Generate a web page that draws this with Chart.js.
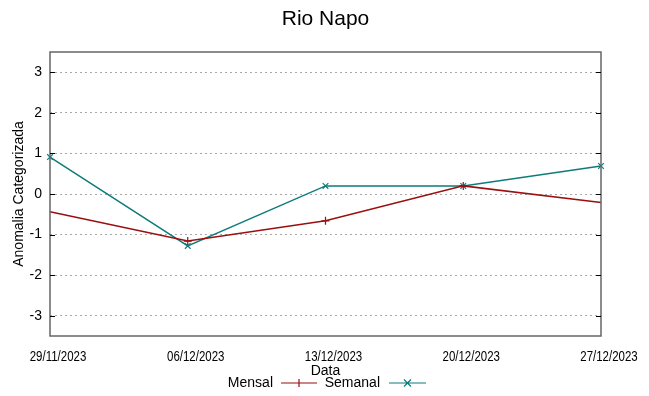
<!DOCTYPE html>
<html>
<head>
<meta charset="utf-8">
<script src="https://cdn.jsdelivr.net/npm/chart.js@4.4.0/dist/chart.umd.min.js"></script>
<style>
body { margin: 0; background: #fff; }
</style>
</head>
<body>
<canvas id="rioNapo" width="649" height="396"></canvas>
<script>
// Data
const dates = ['29/11/2023', '06/12/2023', '13/12/2023', '20/12/2023', '27/12/2023'];
const mensal = [-0.44, -1.16, -0.66, 0.2, -0.21];
const semanal = [0.91, -1.28, 0.2, 0.2, 0.69];
const yTicks = [-3, -2, -1, 0, 1, 2, 3];

const RED = '#9a0f0f';
const TEAL = '#0e7b7b';
const FONT = "'Liberation Sans', Arial, sans-serif";

// title, axis titles, date labels, plot frame, inward ticks and gnuplot-like legend
const decorations = {
    id: 'decorations',
    afterDraw(chart) {
        const ctx = chart.ctx;
        const area = chart.chartArea;
        const x = chart.scales.x;
        const y = chart.scales.y;
        ctx.save();

        // frame around the plot
        ctx.strokeStyle = '#666';
        ctx.lineWidth = 1.5;
        ctx.strokeRect(area.left, area.top, area.right - area.left, area.bottom - area.top);

        // small inward tick marks on both sides
        ctx.strokeStyle = '#000';
        ctx.lineWidth = 1;
        yTicks.forEach(v => {
            const py = Math.round(y.getPixelForValue(v)) + 0.5;
            ctx.beginPath();
            ctx.moveTo(area.left, py); ctx.lineTo(area.left + 5, py);
            ctx.moveTo(area.right, py); ctx.lineTo(area.right - 5, py);
            ctx.stroke();
        });

        ctx.fillStyle = '#000';
        ctx.textBaseline = 'middle';
        ctx.textAlign = 'center';

        // date labels, condensed like the original (gnuplot shifts them a bit right)
        ctx.font = '14px ' + FONT;
        dates.forEach((d, i) => {
            ctx.save();
            ctx.translate(x.getPixelForValue(i) + 8, 357);
            ctx.scale(0.82, 1);
            ctx.fillText(d, 0, 0);
            ctx.restore();
        });

        // title
        ctx.font = '21px ' + FONT;
        ctx.fillText('Rio Napo', (area.left + area.right) / 2, 19);

        // x axis title
        ctx.font = '14px ' + FONT;
        ctx.fillText('Data', (area.left + area.right) / 2, 371);

        // y axis title
        ctx.save();
        ctx.translate(19, (area.top + area.bottom) / 2);
        ctx.rotate(-Math.PI / 2);
        ctx.fillText('Anomalia Categorizada', 0, 0);
        ctx.restore();

        // legend: text, then line sample with marker
        const ly = 383;
        const entries = [
            { label: 'Mensal', textEnd: 273, x0: 281, x1: 317, color: RED, mark: '+' },
            { label: 'Semanal', textEnd: 380, x0: 389, x1: 426, color: TEAL, mark: 'x' },
        ];
        entries.forEach(e => {
            ctx.textAlign = 'right';
            ctx.fillStyle = '#000';
            ctx.fillText(e.label, e.textEnd, ly);
            ctx.strokeStyle = e.color;
            ctx.lineWidth = 1.2;
            ctx.beginPath();
            ctx.moveTo(e.x0, ly); ctx.lineTo(e.x1, ly);
            const cx = (e.x0 + e.x1) / 2;
            if (e.mark === '+') {
                ctx.moveTo(cx, ly - 4); ctx.lineTo(cx, ly + 4);
            } else {
                ctx.moveTo(cx - 3.5, ly - 3.5); ctx.lineTo(cx + 3.5, ly + 3.5);
                ctx.moveTo(cx - 3.5, ly + 3.5); ctx.lineTo(cx + 3.5, ly - 3.5);
            }
            ctx.stroke();
        });

        ctx.restore();
    }
};

new Chart(document.getElementById('rioNapo').getContext('2d'), {
    type: 'line',
    data: {
        labels: dates,
        datasets: [
            {
                label: 'Mensal',
                data: mensal,
                borderColor: RED,
                backgroundColor: RED,
                borderWidth: 1.5,
                pointStyle: 'cross',
                pointRadius: [0, 4, 4, 4, 0],
                pointBorderWidth: 1.2,
                tension: 0,
                clip: 6,
            },
            {
                label: 'Semanal',
                data: semanal,
                borderColor: TEAL,
                backgroundColor: TEAL,
                borderWidth: 1.5,
                pointStyle: 'crossRot',
                pointRadius: 4,
                pointBorderWidth: 1.2,
                tension: 0,
                clip: 6,
            },
        ],
    },
    options: {
        responsive: false,
        animation: false,
        layout: { padding: { top: 52, right: 48, left: 0, bottom: 0 } },
        plugins: {
            legend: { display: false },
            title: { display: false },
            tooltip: { enabled: false },
        },
        scales: {
            x: {
                offset: false,
                grid: { display: false, drawTicks: false },
                border: { display: false },
                ticks: { display: false },
                afterFit(scale) { scale.height = 60; },
            },
            y: {
                min: -3.5,
                max: 3.5,
                grid: { color: '#a8a8a8', lineWidth: 1, drawTicks: false },
                border: { display: false, dash: [2, 3] },
                afterBuildTicks(scale) {
                    scale.ticks = yTicks.map(v => ({ value: v }));
                },
                ticks: {
                    color: '#000',
                    padding: 8,
                    font: { family: FONT, size: 14 },
                },
                afterFit(scale) { scale.width = 50; },
            },
        },
    },
    plugins: [decorations],
});
</script>
</body>
</html>
